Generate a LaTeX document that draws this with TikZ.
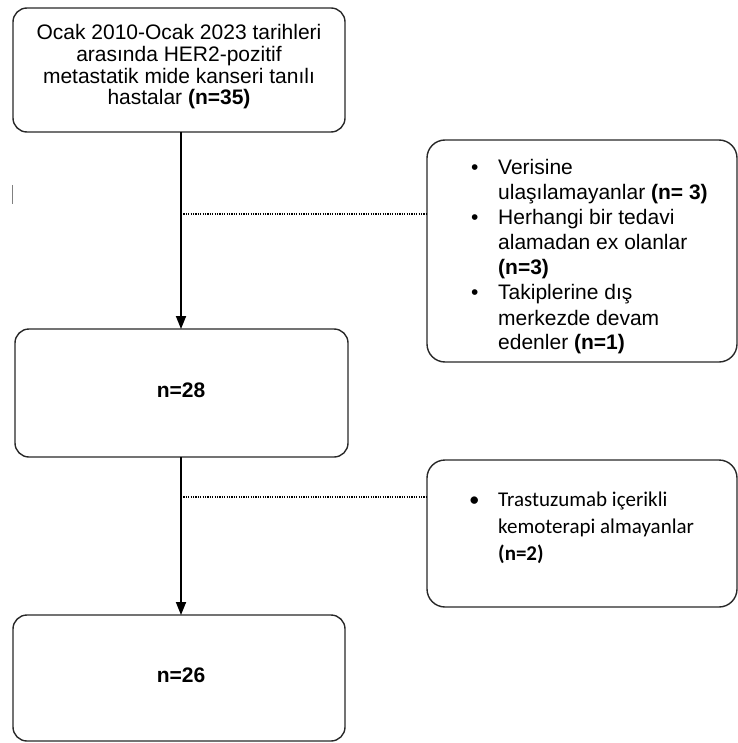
\documentclass[tikz,border=0pt]{standalone}
\usepackage{fontspec}
\setmainfont{Liberation Sans}
\newfontfamily\calibrifont{Carlito}
\usetikzlibrary{arrows.meta}
\definecolor{boxline}{RGB}{40,40,40}
\tikzset{
  flowbox/.style={draw=boxline, line width=1.4pt, rounded corners=14pt},
  sidebox/.style={draw=boxline, line width=1.4pt, rounded corners=18pt},
  flowarrow/.style={line width=1.8pt, -{Triangle[length=13pt,width=10pt]}},
  flowline/.style={line width=1.8pt},
  dotline/.style={line width=1.3pt, dash pattern=on 1.2pt off 1.2pt},
  txt/.style={inner sep=0pt, font=\fontsize{21}{21.7}\selectfont}
}
\begin{document}
\begin{tikzpicture}[x=1pt,y=-1pt]
\useasboundingbox (0,0) rectangle (737,743);
% boxes
\draw[flowbox] (13,8) rectangle (345,132);
\coordinate (b1) at (179,132);
\draw[flowbox] (15,329) rectangle (348,457);
\coordinate (b3t) at (181,329);
\coordinate (b3b) at (181,457);
\draw[flowbox] (13,615) rectangle (345,741);
\coordinate (b5t) at (181,615);
\draw[sidebox] (427,140) rectangle (737,362);
\draw[sidebox] (427,460) rectangle (737,607);
% texts
\node[txt, align=center] (t1) at (179,67) {Ocak 2010-Ocak 2023 tarihleri\\arasında HER2-pozitif\\metastatik mide kanseri tanılı\\hastalar \textbf{(n=35)}};
\node[txt, anchor=base] (t3) at (181,397) {\textbf{n=28}};
\node[txt, anchor=base] (t5) at (181,682) {\textbf{n=26}};
\node[inner sep=0pt, anchor=base west] (t2) at (471,175) {\fontsize{21}{25}\selectfont
\begin{tabular}[t]{@{}p{27pt}@{}l@{}}
\textbullet & Verisine\\
 & ulaşılamayanlar \textbf{(n= 3)}\\
\textbullet & Herhangi bir tedavi\\
 & alamadan ex olanlar\\
 & \textbf{(n=3)}\\
\textbullet & Takiplerine dış\\
 & merkezde devam\\
 & edenler \textbf{(n=1)}
\end{tabular}};
\node[inner sep=0pt, anchor=base west] (t4) at (469,506) {\calibrifont\fontsize{21}{27}\selectfont
\begin{tabular}[t]{@{}p{29pt}@{}l@{}}
\textbullet & Trastuzumab içerikli\\
 & kemoterapi almayanlar\\
 & \textbf{(n=2)}
\end{tabular}};
% connectors
\draw[flowarrow] (b1 -| b3t) -- (b3t);
\draw[flowarrow] (b3b) -- (b5t);
\coordinate (d1) at (181,214);
\coordinate (d1e) at (427,214);
\draw[dotline] (d1) -- (d1e);
\coordinate (d2) at (181,497);
\coordinate (d2e) at (427,497);
\draw[dotline] (d2) -- (d2e);
% stray cursor mark
\draw[line width=0.9pt, gray] (12.5,185) -- (12.5,204);
\end{tikzpicture}
\end{document}
